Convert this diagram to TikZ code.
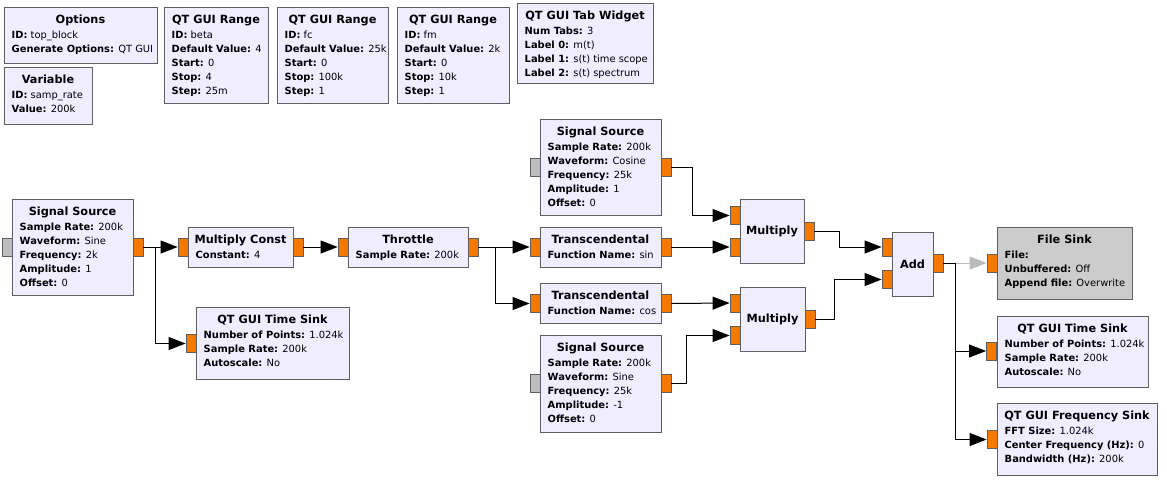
\documentclass[tikz,border=0pt]{standalone}
\usepackage{fontspec}
\setmainfont{DejaVu Sans}
\usetikzlibrary{arrows.meta,calc}
\definecolor{blkfill}{HTML}{F0EDFF}
\definecolor{blkedge}{HTML}{5F5F5F}
\definecolor{portor}{HTML}{F57900}
\definecolor{portgr}{HTML}{BEBEBE}
\definecolor{disfill}{HTML}{CCCCCC}
\definecolor{diswire}{HTML}{BBBBBB}
\newcommand\kv[2]{\textbf{#1:} #2}
% [style] name, x1, y1, x2, y2, title, list of lines
\newcommand\gblock[8][]{%
  \node[blockbox,#1,minimum width={(#5-#3)*1pt},minimum height={(#6-#4)*1pt}] (#2) at ({(#3+#5)/2},{(#4+#6)/2}) {};
  \node[titletxt] (#2-t) at ($(#2.north)+(0,17)$) {#7};
  \foreach \pline [count=\i from 0] in {#8} {\node[paramtxt] (#2-\i) at ($(#2.north west)+(8,{31.5+14.2*\i})$) {\pline};}%
}
% name, x1, y1, x2, y2, title (centred)
\newcommand\tblock[6]{%
  \node[blockbox,minimum width={(#4-#2)*1pt},minimum height={(#5-#3)*1pt}] (#1) at ({(#2+#4)/2},{(#3+#5)/2}) {};
  \node[titletxt,anchor=center] (#1-t) at (#1.center) {#6};
}
\begin{document}
\begin{tikzpicture}[x=1pt,y=-1pt,
  blockbox/.style={draw=blkedge,fill=blkfill,line width=1pt,inner sep=0pt,rectangle},
  disabled/.style={fill=disfill},
  port/.style={draw=blkedge,fill=portor,line width=0.8pt,minimum width=10pt,minimum height=18pt,inner sep=0pt,rectangle},
  msgport/.style={port,fill=portgr},
  wire/.style={line width=1pt,-{Triangle[length=17pt,width=13pt]}},
  grwire/.style={wire,draw=diswire,-{Triangle[length=17pt,width=13pt,color=diswire]}},
  titletxt/.style={font=\fontsize{11.3}{13}\selectfont\bfseries,inner sep=0pt,anchor=base},
  paramtxt/.style={font=\fontsize{9.9}{11}\selectfont,inner sep=0pt,anchor=base west}]
\fill[white] (0,0) rectangle (1167,482);
\useasboundingbox (0,0) rectangle (1167,482);

% variable / widget blocks
\gblock{opts}{4}{7}{157}{63}{Options}{\kv{ID}{top\_block},\kv{Generate Options}{QT GUI}}
\gblock{var}{4}{67}{92}{124}{Variable}{\kv{ID}{samp\_rate},\kv{Value}{200k}}
\gblock{rng1}{164}{7}{268}{103}{QT GUI Range}{\kv{ID}{beta},\kv{Default Value}{4},\kv{Start}{0},\kv{Stop}{4},\kv{Step}{25m}}
\gblock{rng2}{277}{7}{388}{103}{QT GUI Range}{\kv{ID}{fc},\kv{Default Value}{25k},\kv{Start}{0},\kv{Stop}{100k},\kv{Step}{1}}
\gblock{rng3}{397}{7}{509}{103}{QT GUI Range}{\kv{ID}{fm},\kv{Default Value}{2k},\kv{Start}{0},\kv{Stop}{10k},\kv{Step}{1}}
\gblock{tab}{517}{3}{653}{83}{QT GUI Tab Widget}{\kv{Num Tabs}{3},\kv{Label 0}{m(t)},\kv{Label 1}{s(t) time scope},\kv{Label 2}{s(t) spectrum}}

% processing blocks
\gblock{src1}{12}{199}{133}{295}{Signal Source}{\kv{Sample Rate}{200k},\kv{Waveform}{Sine},\kv{Frequency}{2k},\kv{Amplitude}{1},\kv{Offset}{0}}
\gblock{mconst}{188}{227}{293}{267}{Multiply Const}{\kv{Constant}{4}}
\gblock{tsink1}{196}{307}{349}{379}{QT GUI Time Sink}{\kv{Number of Points}{1.024k},\kv{Sample Rate}{200k},\kv{Autoscale}{No}}
\gblock{thr}{348}{227}{468}{267}{Throttle}{\kv{Sample Rate}{200k}}
\gblock{src2}{540}{119}{661}{215}{Signal Source}{\kv{Sample Rate}{200k},\kv{Waveform}{Cosine},\kv{Frequency}{25k},\kv{Amplitude}{1},\kv{Offset}{0}}
\gblock{trs}{540}{227}{661}{267}{Transcendental}{\kv{Function Name}{sin}}
\gblock{trc}{540}{283}{661}{323}{Transcendental}{\kv{Function Name}{cos}}
\gblock{src3}{540}{335}{661}{432}{Signal Source}{\kv{Sample Rate}{200k},\kv{Waveform}{Sine},\kv{Frequency}{25k},\kv{Amplitude}{-1},\kv{Offset}{0}}
\tblock{mul1}{740}{199}{804}{263}{Multiply}
\tblock{mul2}{740}{287}{805}{351}{Multiply}
\tblock{add}{892}{232}{933}{296}{Add}
\gblock[disabled]{fsink}{997}{227}{1132}{299}{File Sink}{\kv{File}{},\kv{Unbuffered}{Off},\kv{Append file}{Overwrite}}
\gblock{tsink2}{997}{316}{1148}{387}{QT GUI Time Sink}{\kv{Number of Points}{1.024k},\kv{Sample Rate}{200k},\kv{Autoscale}{No}}
\gblock{fsink2}{997}{403}{1157}{475}{QT GUI Frequency Sink}{\kv{FFT Size}{1.024k},\kv{Center Frequency (Hz)}{0},\kv{Bandwidth (Hz)}{200k}}

% ports
\node[msgport] (src1-i) at (7,247) {};
\node[port] (src1-o) at (138,247) {};
\node[port] (mconst-i) at (183,247) {};
\node[port] (mconst-o) at (298,247) {};
\node[port] (tsink1-i) at (191,343.5) {};
\node[port] (thr-i) at (343,247) {};
\node[port] (thr-o) at (473,247) {};
\node[msgport] (src2-i) at (535,167) {};
\node[port] (src2-o) at (666,167) {};
\node[port] (trs-i) at (535,247) {};
\node[port] (trs-o) at (666,247) {};
\node[port] (trc-i) at (535,303.5) {};
\node[port] (trc-o) at (666,303.5) {};
\node[msgport] (src3-i) at (535,383) {};
\node[port] (src3-o) at (666,383) {};
\node[port] (mul1-i0) at (735,215.5) {};
\node[port] (mul1-i1) at (735,247) {};
\node[port] (mul1-o) at (809,231.5) {};
\node[port] (mul2-i0) at (735,303) {};
\node[port] (mul2-i1) at (735,335.5) {};
\node[port] (mul2-o) at (810,319.5) {};
\node[port] (add-i0) at (887,247) {};
\node[port] (add-i1) at (887,279.5) {};
\node[port] (add-o) at (938,263) {};
\node[port] (fsink-i) at (992,263) {};
\node[port] (tsink2-i) at (991.5,351) {};
\node[port] (fsink2-i) at (992,439.5) {};

% connections
\draw[wire] (src1-o.east) -- (mconst-i.west);
\draw[wire] (src1-o.east) -- ++(12,0) |- (tsink1-i.west);
\draw[wire] (mconst-o.east) -- (thr-i.west);
\draw[wire] (thr-o.east) -- (trs-i.west);
\draw[wire] (thr-o.east) -- ++(17,0) |- (trc-i.west);
\draw[wire] (src2-o.east) -- ++(21,0) |- (mul1-i0.west);
\draw[wire] (trs-o.east) -- (mul1-i1.west);
\draw[wire] (trc-o.east) -- (mul2-i0.west);
\draw[wire] (src3-o.east) -- ++(15,0) |- (mul2-i1.west);
\draw[wire] (mul1-o.east) -- ++(25,0) |- (add-i0.west);
\draw[wire] (mul2-o.east) -- ++(19,0) |- (add-i1.west);
\draw[grwire] (add-o.east) -- (fsink-i.west);
\draw[wire] (add-o.east) -- ++(12,0) |- (tsink2-i.west);
\draw[wire] (add-o.east) -- ++(12,0) |- (fsink2-i.west);
\end{tikzpicture}
\end{document}
